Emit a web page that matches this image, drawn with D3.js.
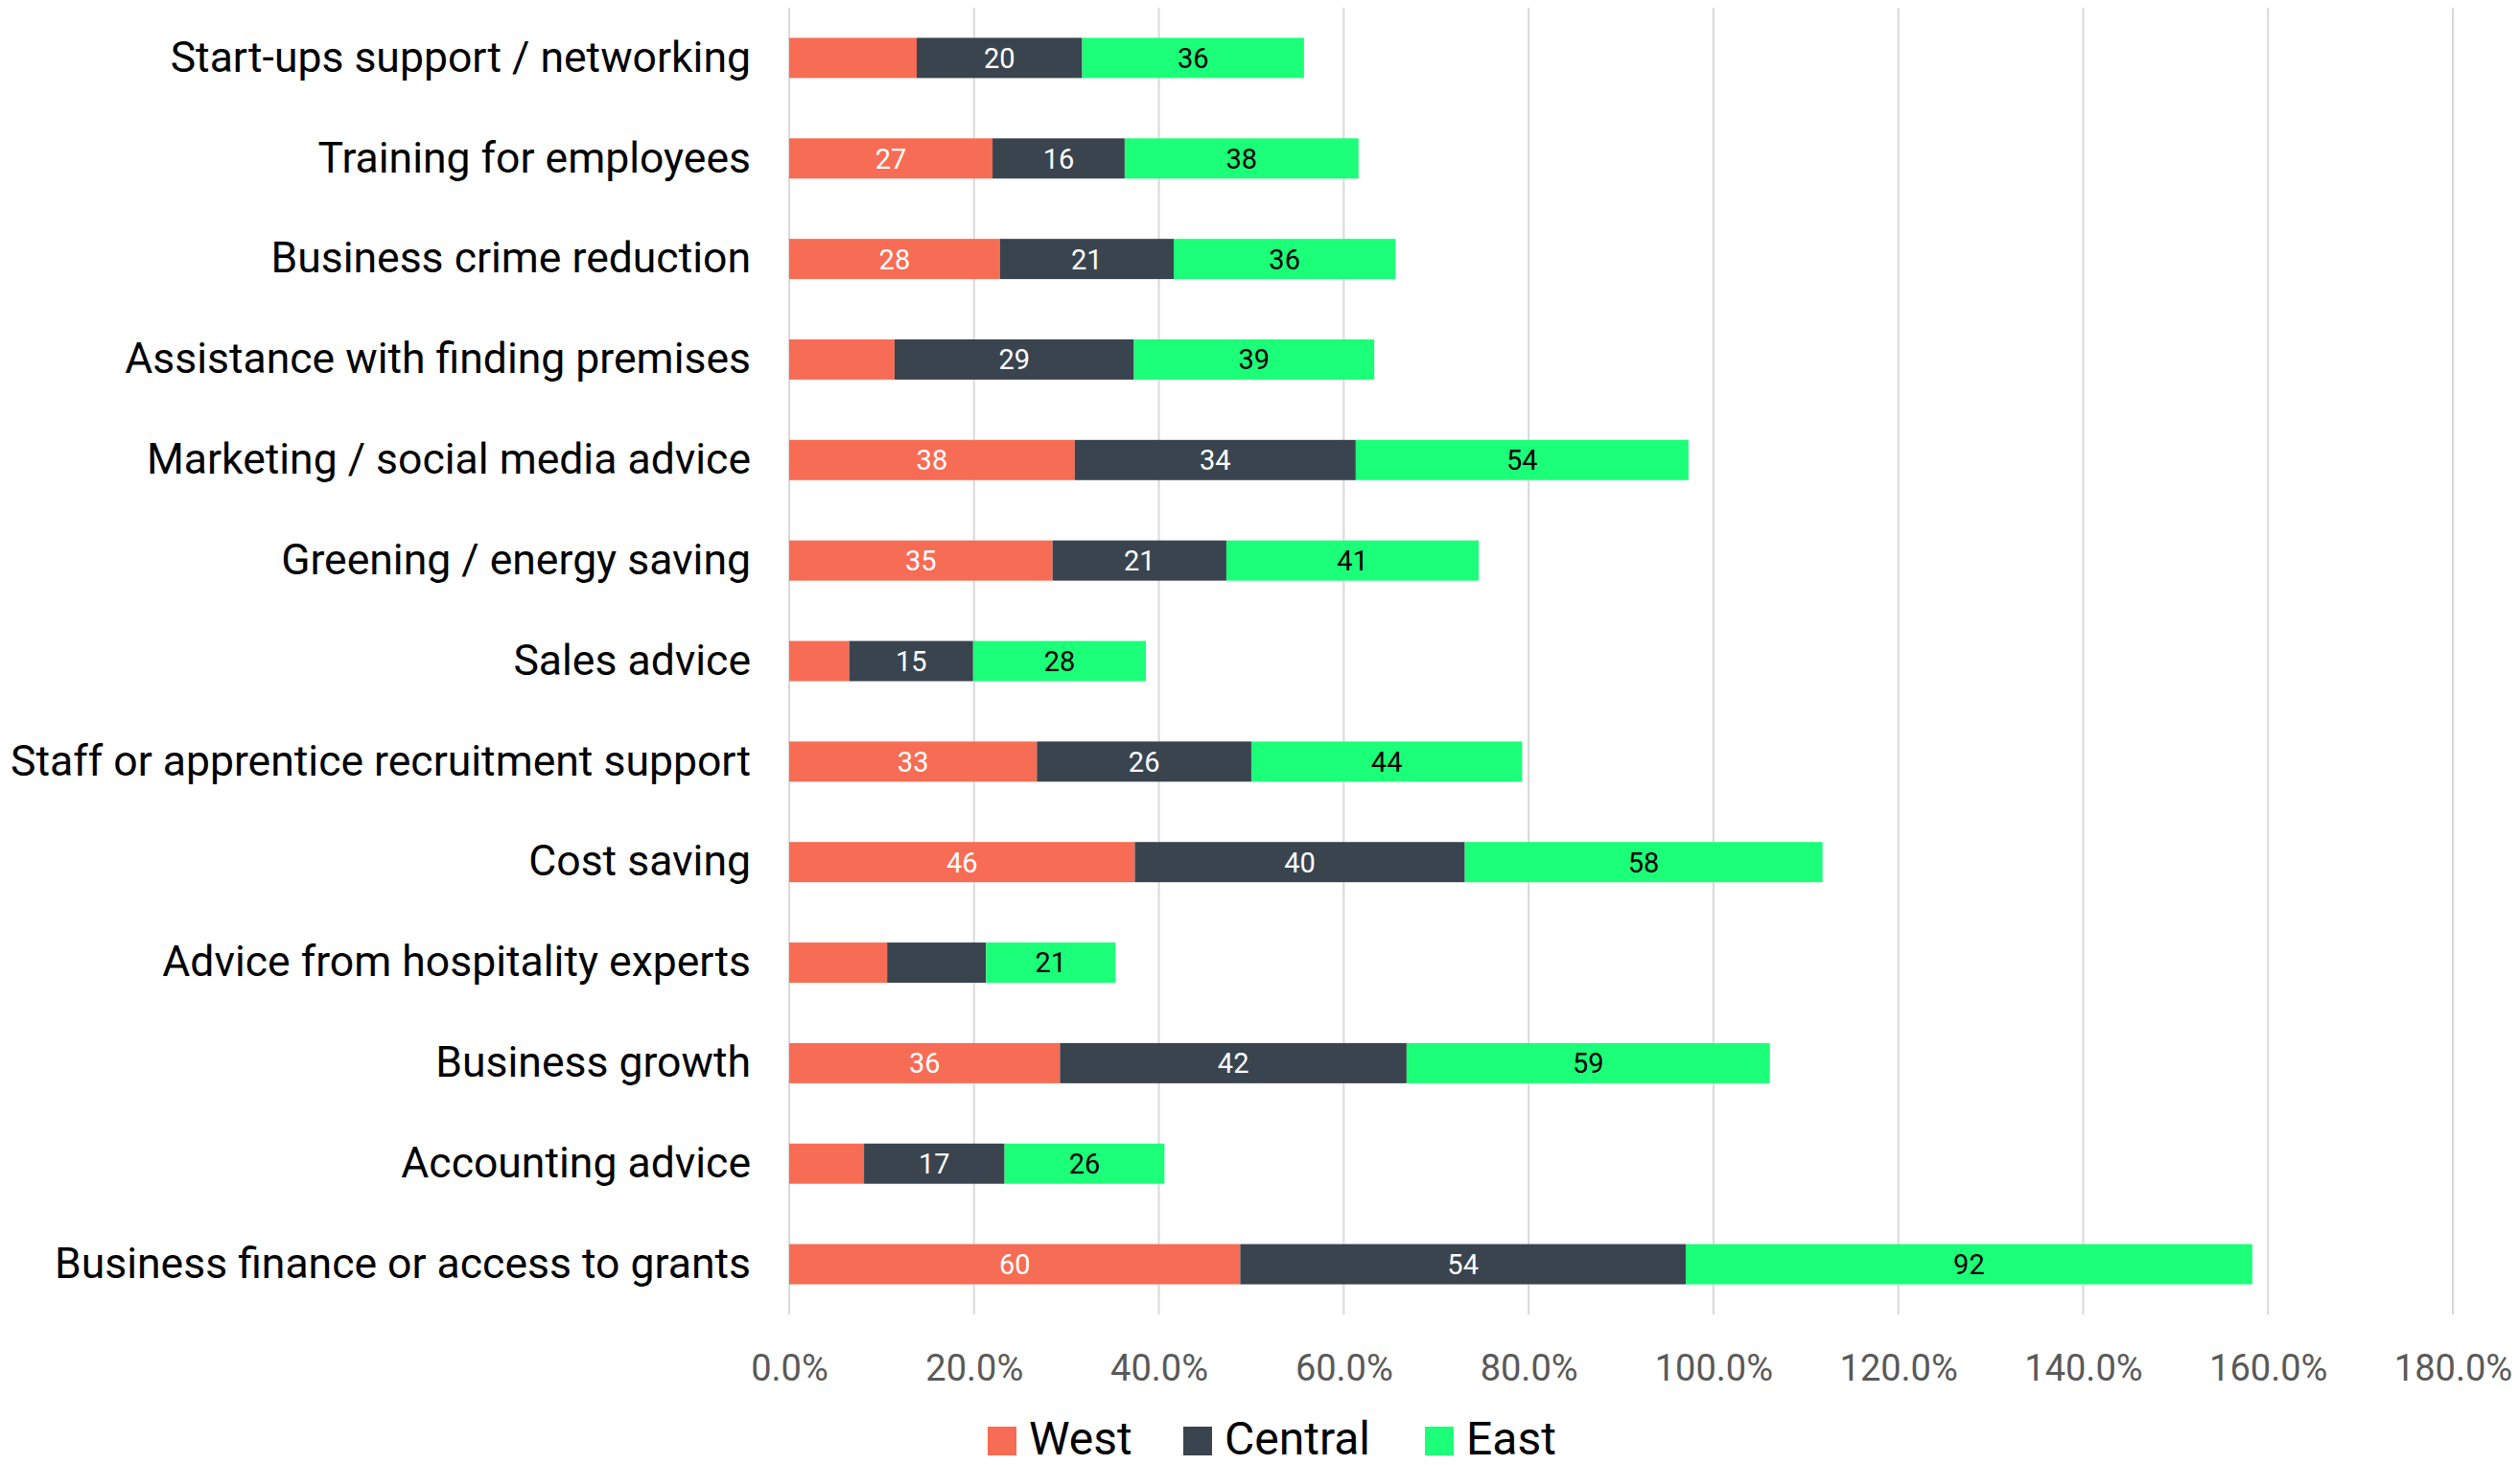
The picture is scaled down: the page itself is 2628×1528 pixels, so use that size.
<!DOCTYPE html>
<html>
<head>
<meta charset="utf-8">
<script src="https://cdn.jsdelivr.net/npm/d3@7"></script>
<style>
  body { margin: 0; background: #fff; }
  svg { display: block; }
</style>
</head>
<body>
<svg id="chart"></svg>
<script>
// categories top to bottom
var categories = [
  "Start-ups support / networking",
  "Training for employees",
  "Business crime reduction",
  "Assistance with finding premises",
  "Marketing / social media advice",
  "Greening / energy saving",
  "Sales advice",
  "Staff or apprentice recruitment support",
  "Cost saving",
  "Advice from hospitality experts",
  "Business growth",
  "Accounting advice",
  "Business finance or access to grants"
];

var regions = ["West", "Central", "East"];

// bar lengths, % of respondents in each region
var westPct    = [13.8, 22.0, 22.8, 11.4, 30.9, 28.5, 6.5, 26.8, 37.4, 10.6, 29.3, 8.1, 48.8];
var centralPct = [17.9, 14.3, 18.8, 25.9, 30.4, 18.8, 13.4, 23.2, 35.7, 10.7, 37.5, 15.2, 48.2];
var eastPct    = [24.0, 25.3, 24.0, 26.0, 36.0, 27.3, 18.7, 29.3, 38.7, 14.0, 39.3, 17.3, 61.3];

// numbers printed inside the bars (null = no label shown)
var westN    = [null, 27, 28, null, 38, 35, null, 33, 46, null, 36, null, 60];
var centralN = [20, 16, 21, 29, 34, 21, 15, 26, 40, null, 42, 17, 54];
var eastN    = [36, 38, 36, 39, 54, 41, 28, 44, 58, 21, 59, 26, 92];

var xTicks = [0, 20, 40, 60, 80, 100, 120, 140, 160, 180];

var colors = { West: "#f76c54", Central: "#39444f", East: "#1cff78" };
var labelColors = { West: "#ffffff", Central: "#ffffff", East: "#000000" };

var width = 2628, height = 1528;
// note: "top" clashes with window.top, so prefix these
var plotLeft = 823, plotRight = 2558, plotTop = 8, plotBottom = 1371;

var svg = d3.select("#chart")
  .attr("width", width)
  .attr("height", height);

var x = d3.scaleLinear().domain([0, 180]).range([plotLeft, plotRight]);
var y = d3.scaleBand().domain(categories).range([plotTop, plotBottom])
  .paddingInner(0.6).paddingOuter(0.3);

// build rows for the stack
var rows = categories.map(function(c, i) {
  return {
    cat: c,
    West: westPct[i], Central: centralPct[i], East: eastPct[i],
    nWest: westN[i], nCentral: centralN[i], nEast: eastN[i]
  };
});
var series = d3.stack().keys(regions)(rows);

// gridlines
svg.append("g")
  .selectAll("line")
  .data(xTicks)
  .enter().append("line")
  .attr("x1", function(d) { return x(d); })
  .attr("x2", function(d) { return x(d); })
  .attr("y1", plotTop)
  .attr("y2", plotBottom)
  .attr("stroke", "#d9d9d9")
  .attr("stroke-width", 2);

// x axis labels
var xAxis = d3.axisBottom(x)
  .tickValues(xTicks)
  .tickSize(0)
  .tickPadding(0)
  .tickFormat(function(d) { return d.toFixed(1) + "%"; });

var gx = svg.append("g")
  .attr("transform", "translate(0," + 1426 + ")")
  .call(xAxis);
gx.select(".domain").remove();
gx.selectAll("text")
  .attr("y", 0)
  .attr("dy", "0.36em")
  .attr("fill", "#595959")
  .style("font-family", "Roboto, sans-serif")
  .style("font-size", "38px");

// category labels
var yAxis = d3.axisLeft(y).tickSize(0).tickPadding(40);
var gy = svg.append("g")
  .attr("transform", "translate(" + plotLeft + ",0)")
  .call(yAxis);
gy.select(".domain").remove();
gy.selectAll("text")
  .attr("fill", "#000")
  .style("font-family", "Roboto, sans-serif")
  .style("font-size", "44.5px");

// stacked bars
var layer = svg.append("g")
  .selectAll("g")
  .data(series)
  .enter().append("g")
  .attr("fill", function(d) { return colors[d.key]; });

layer.selectAll("rect")
  .data(function(d) { return d; })
  .enter().append("rect")
  .attr("x", function(d) { return x(d[0]); })
  .attr("y", function(d) { return y(d.data.cat); })
  .attr("width", function(d) { return x(d[1]) - x(d[0]); })
  .attr("height", y.bandwidth());

// value labels
layer.each(function(s) {
  d3.select(this).selectAll("text")
    .data(s.filter(function(d) { return d.data["n" + s.key] != null; }))
    .enter().append("text")
    .attr("x", function(d) { return (x(d[0]) + x(d[1])) / 2; })
    .attr("y", function(d) { return y(d.data.cat) + y.bandwidth() / 2; })
    .attr("dy", "0.36em")
    .attr("text-anchor", "middle")
    .attr("fill", labelColors[s.key])
    .style("font-family", "Roboto, sans-serif")
    .style("font-size", "29px")
    .text(function(d) { return d.data["n" + s.key]; });
});

// legend along the bottom edge
var legend = svg.append("g")
  .selectAll("g")
  .data(regions)
  .enter().append("g")
  .attr("transform", function(d, i) { return "translate(" + [1030, 1234, 1486][i] + ",1488)"; });

legend.append("rect")
  .attr("width", 30)
  .attr("height", 30)
  .attr("fill", function(d) { return colors[d]; });

legend.append("text")
  .attr("x", 43)
  .attr("y", 29)
  .style("font-family", "Roboto, sans-serif")
  .style("font-size", "48px")
  .text(function(d) { return d; });
</script>
</body>
</html>
